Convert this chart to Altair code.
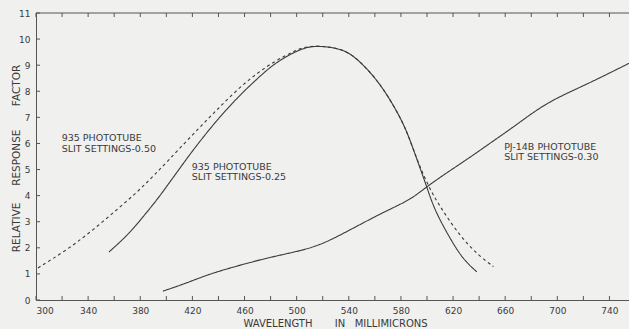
import altair as alt
import pandas as pd

# 935 phototube, slit settings 0.25 (solid)
wl_025 = [356, 370.5, 382, 392.7, 402.7, 414, 420.7, 438.7, 456.6, 464.2, 479.6, 492.4,
          505.1, 515.4, 530.8, 541, 553, 566, 580.6, 587, 593.4, 599.8, 604.9, 612.6,
          622.9, 630, 638.2]
rf_025 = [1.84, 2.49, 3.18, 3.83, 4.52, 5.30, 5.76, 6.90, 7.86, 8.22, 8.94, 9.35,
          9.66, 9.75, 9.66, 9.47, 8.93, 8.16, 6.92, 6.13, 5.24, 4.34, 3.58, 2.81,
          1.92, 1.45, 1.08]

# 935 phototube, slit settings 0.50 (dashed)
wl_050 = [301.5, 323.8, 343.7, 364.4, 382, 400.4, 425.9, 438.7, 454, 469.4, 484.7,
          497.5, 505.1, 515.4, 530.8, 541, 553, 566, 580.6, 587, 593.4, 602.4, 610.1,
          620.3, 630.5, 640.8, 651]
rf_050 = [1.23, 1.92, 2.68, 3.56, 4.33, 5.29, 6.64, 7.28, 8.05, 8.69, 9.20,
          9.52, 9.69, 9.75, 9.66, 9.47, 8.93, 8.16, 6.92, 6.13, 5.24, 4.22, 3.58,
          2.81, 2.17, 1.66, 1.28]

# PJ-14B phototube, slit settings 0.30 (solid)
wl_pj = [397.4, 415.7, 431, 451, 477, 497, 517.7, 540.7, 564, 579.4, 589.6, 599.8,
         615.2, 630.5, 648.4, 668.9, 691.9, 720, 755]
rf_pj = [0.34, 0.65, 0.96, 1.26, 1.61, 1.82, 2.08, 2.68, 3.30, 3.66, 3.94, 4.34,
         4.88, 5.38, 6.01, 6.72, 7.58, 8.20, 9.07]

series_names = ["935-0.25", "935-0.50", "PJ14B-0.30"]

x_ticks = list(range(300, 741, 20))
y_ticks = list(range(0, 12))

ann_text = ["935 PHOTOTUBE", "SLIT SETTINGS-0.50",
            "935 PHOTOTUBE", "SLIT SETTINGS-0.25",
            "PJ-14B  PHOTOTUBE", "SLIT SETTINGS-0.30"]
ann_x = [319.7, 319.7, 419.5, 419.5, 659.2, 659.2]
ann_y = [6.20, 5.78, 5.09, 4.70, 5.88, 5.47]

x_title = "WAVELENGTH" + "\u00a0" * 7 + "IN" + "\u00a0" * 3 + "MILLIMICRONS"
y_title = "RELATIVE" + "\u00a0" * 5 + "RESPONSE" + "\u00a0" * 7 + "FACTOR"

rows = []
for name, xs_, ys_ in zip(series_names, [wl_025, wl_050, wl_pj], [rf_025, rf_050, rf_pj]):
    for a, b in zip(xs_, ys_):
        rows.append({"series": name, "wl": a, "rf": b})
df = pd.DataFrame(rows)

ink = "#3a3a3a"
font = "DejaVu Sans"
W, H = 593, 287

xs = alt.Scale(domain=[300, 755], nice=False, zero=False)
ys = alt.Scale(domain=[0, 11], nice=False, zero=True)

xaxis = alt.Axis(values=x_ticks, ticks=False, grid=False, domainColor="#555555", domainWidth=1,
                 labelExpr="(datum.value - 300) % 40 == 0 ? datum.label : ''",
                 labelFont=font, labelFontSize=9, labelColor=ink, labelPadding=6, labelFlush=True,
                 labelOverlap=False,
                 title=x_title, titleFont=font, titleFontSize=10, titleFontWeight="normal",
                 titleColor=ink, titleX=299, titleY=23, titleBaseline="middle", titleAlign="center")
yaxis = alt.Axis(values=y_ticks, ticks=False, grid=False, domainColor="#555555", domainWidth=1,
                 labelFont=font, labelFontSize=9, labelColor=ink, labelPadding=6, labelFlush=False,
                 labelOverlap=False,
                 title=y_title, titleFont=font, titleFontSize=10.5, titleFontWeight="normal",
                 titleColor=ink, titleX=-20, titleY=145, titleBaseline="middle", titleAlign="center",
                 titleAngle=270)

lines = alt.Chart(df).mark_line(interpolate="basis", strokeWidth=1.1, clip=True).encode(
    x=alt.X("wl:Q", scale=xs, axis=xaxis),
    y=alt.Y("rf:Q", scale=ys, axis=yaxis),
    detail="series:N",
    strokeDash=alt.StrokeDash("series:N", scale=alt.Scale(domain=series_names,
                              range=[[1, 0], [3, 3], [1, 0]]), legend=None),
    color=alt.value(ink),
)

xt = pd.DataFrame({"t": x_ticks})
yt = pd.DataFrame({"t": y_ticks})

bottom_ticks = alt.Chart(xt).mark_rule(color="#555555", strokeWidth=1).encode(
    x=alt.X("t:Q", scale=xs, axis=xaxis), y=alt.value(H - 4), y2=alt.value(H))
top_ticks = alt.Chart(xt).mark_rule(color="#555555", strokeWidth=1).encode(
    x=alt.X("t:Q", scale=xs, axis=xaxis), y=alt.value(0), y2=alt.value(4))
left_ticks = alt.Chart(yt).mark_rule(color="#555555", strokeWidth=1).encode(
    y=alt.Y("t:Q", scale=ys, axis=yaxis), x=alt.value(0), x2=alt.value(4))
top_line = alt.Chart(pd.DataFrame({"k": [0]})).mark_rule(color="#555555", strokeWidth=1).encode(
    x=alt.value(0), x2=alt.value(W), y=alt.value(0))

ann = alt.Chart(pd.DataFrame({"x": ann_x, "y": ann_y, "text": ann_text})).mark_text(
    align="left", baseline="middle", font=font, fontSize=9.5, color=ink).encode(
    x=alt.X("x:Q", scale=xs, axis=xaxis), y=alt.Y("y:Q", scale=ys, axis=yaxis), text="text:N")

chart = alt.layer(lines, top_line, bottom_ticks, top_ticks, left_ticks, ann).properties(
    width=W, height=H,
    autosize=alt.AutoSizeParams(type="none"),
    padding={"left": 36, "top": 13, "right": 0, "bottom": 29},
    background="#f0f0ee",
).configure_view(stroke=None)

chart.save("out.html", embed_options={"renderer": "svg", "actions": False})
